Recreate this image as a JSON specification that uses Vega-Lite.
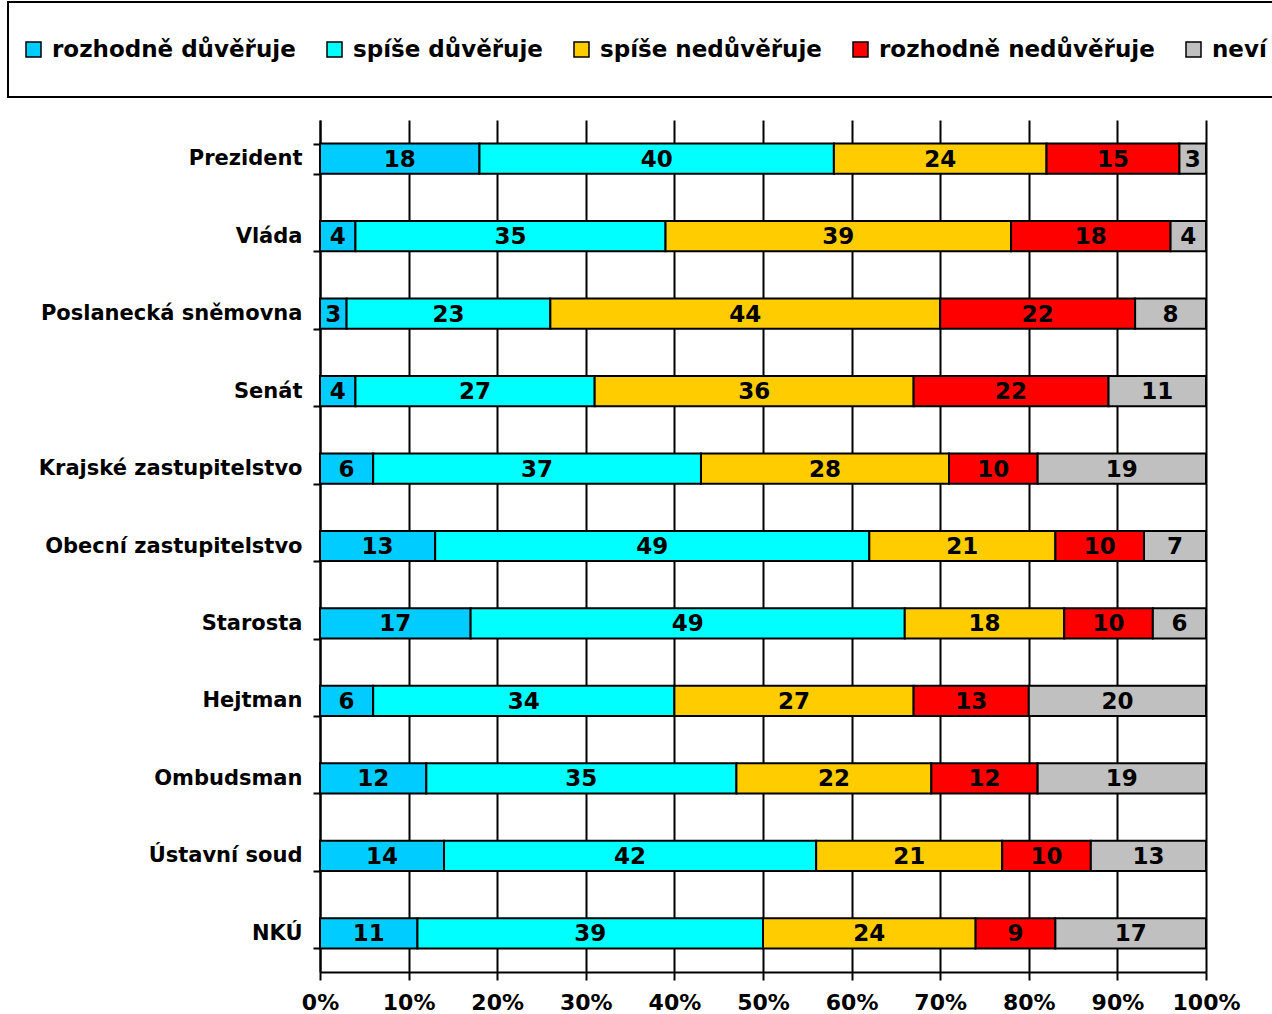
{
  "$schema": "https://vega.github.io/schema/vega-lite/v6.json",
  "autosize": {"type": "none"},
  "width": 886,
  "height": 852,
  "padding": {"left": 320, "top": 120, "right": 66, "bottom": 42},
  "background": "white",
  "config": {
    "font": "DejaVu Sans",
    "view": {"stroke": null}
  },
  "data": {
    "values": [
      {"instituce": "Prezident", "kat": "rozhodně důvěřuje", "o": 1, "v": 18},
      {"instituce": "Prezident", "kat": "spíše důvěřuje", "o": 2, "v": 40},
      {"instituce": "Prezident", "kat": "spíše nedůvěřuje", "o": 3, "v": 24},
      {"instituce": "Prezident", "kat": "rozhodně nedůvěřuje", "o": 4, "v": 15},
      {"instituce": "Prezident", "kat": "neví", "o": 5, "v": 3},
      {"instituce": "Vláda", "kat": "rozhodně důvěřuje", "o": 1, "v": 4},
      {"instituce": "Vláda", "kat": "spíše důvěřuje", "o": 2, "v": 35},
      {"instituce": "Vláda", "kat": "spíše nedůvěřuje", "o": 3, "v": 39},
      {"instituce": "Vláda", "kat": "rozhodně nedůvěřuje", "o": 4, "v": 18},
      {"instituce": "Vláda", "kat": "neví", "o": 5, "v": 4},
      {"instituce": "Poslanecká sněmovna", "kat": "rozhodně důvěřuje", "o": 1, "v": 3},
      {"instituce": "Poslanecká sněmovna", "kat": "spíše důvěřuje", "o": 2, "v": 23},
      {"instituce": "Poslanecká sněmovna", "kat": "spíše nedůvěřuje", "o": 3, "v": 44},
      {"instituce": "Poslanecká sněmovna", "kat": "rozhodně nedůvěřuje", "o": 4, "v": 22},
      {"instituce": "Poslanecká sněmovna", "kat": "neví", "o": 5, "v": 8},
      {"instituce": "Senát", "kat": "rozhodně důvěřuje", "o": 1, "v": 4},
      {"instituce": "Senát", "kat": "spíše důvěřuje", "o": 2, "v": 27},
      {"instituce": "Senát", "kat": "spíše nedůvěřuje", "o": 3, "v": 36},
      {"instituce": "Senát", "kat": "rozhodně nedůvěřuje", "o": 4, "v": 22},
      {"instituce": "Senát", "kat": "neví", "o": 5, "v": 11},
      {"instituce": "Krajské zastupitelstvo", "kat": "rozhodně důvěřuje", "o": 1, "v": 6},
      {"instituce": "Krajské zastupitelstvo", "kat": "spíše důvěřuje", "o": 2, "v": 37},
      {"instituce": "Krajské zastupitelstvo", "kat": "spíše nedůvěřuje", "o": 3, "v": 28},
      {"instituce": "Krajské zastupitelstvo", "kat": "rozhodně nedůvěřuje", "o": 4, "v": 10},
      {"instituce": "Krajské zastupitelstvo", "kat": "neví", "o": 5, "v": 19},
      {"instituce": "Obecní zastupitelstvo", "kat": "rozhodně důvěřuje", "o": 1, "v": 13},
      {"instituce": "Obecní zastupitelstvo", "kat": "spíše důvěřuje", "o": 2, "v": 49},
      {"instituce": "Obecní zastupitelstvo", "kat": "spíše nedůvěřuje", "o": 3, "v": 21},
      {"instituce": "Obecní zastupitelstvo", "kat": "rozhodně nedůvěřuje", "o": 4, "v": 10},
      {"instituce": "Obecní zastupitelstvo", "kat": "neví", "o": 5, "v": 7},
      {"instituce": "Starosta", "kat": "rozhodně důvěřuje", "o": 1, "v": 17},
      {"instituce": "Starosta", "kat": "spíše důvěřuje", "o": 2, "v": 49},
      {"instituce": "Starosta", "kat": "spíše nedůvěřuje", "o": 3, "v": 18},
      {"instituce": "Starosta", "kat": "rozhodně nedůvěřuje", "o": 4, "v": 10},
      {"instituce": "Starosta", "kat": "neví", "o": 5, "v": 6},
      {"instituce": "Hejtman", "kat": "rozhodně důvěřuje", "o": 1, "v": 6},
      {"instituce": "Hejtman", "kat": "spíše důvěřuje", "o": 2, "v": 34},
      {"instituce": "Hejtman", "kat": "spíše nedůvěřuje", "o": 3, "v": 27},
      {"instituce": "Hejtman", "kat": "rozhodně nedůvěřuje", "o": 4, "v": 13},
      {"instituce": "Hejtman", "kat": "neví", "o": 5, "v": 20},
      {"instituce": "Ombudsman", "kat": "rozhodně důvěřuje", "o": 1, "v": 12},
      {"instituce": "Ombudsman", "kat": "spíše důvěřuje", "o": 2, "v": 35},
      {"instituce": "Ombudsman", "kat": "spíše nedůvěřuje", "o": 3, "v": 22},
      {"instituce": "Ombudsman", "kat": "rozhodně nedůvěřuje", "o": 4, "v": 12},
      {"instituce": "Ombudsman", "kat": "neví", "o": 5, "v": 19},
      {"instituce": "Ústavní soud", "kat": "rozhodně důvěřuje", "o": 1, "v": 14},
      {"instituce": "Ústavní soud", "kat": "spíše důvěřuje", "o": 2, "v": 42},
      {"instituce": "Ústavní soud", "kat": "spíše nedůvěřuje", "o": 3, "v": 21},
      {"instituce": "Ústavní soud", "kat": "rozhodně nedůvěřuje", "o": 4, "v": 10},
      {"instituce": "Ústavní soud", "kat": "neví", "o": 5, "v": 13},
      {"instituce": "NKÚ", "kat": "rozhodně důvěřuje", "o": 1, "v": 11},
      {"instituce": "NKÚ", "kat": "spíše důvěřuje", "o": 2, "v": 39},
      {"instituce": "NKÚ", "kat": "spíše nedůvěřuje", "o": 3, "v": 24},
      {"instituce": "NKÚ", "kat": "rozhodně nedůvěřuje", "o": 4, "v": 9},
      {"instituce": "NKÚ", "kat": "neví", "o": 5, "v": 17}
    ]
  },
  "encoding": {
    "y": {
      "field": "instituce",
      "type": "nominal",
      "sort": ["Prezident", "Vláda", "Poslanecká sněmovna", "Senát", "Krajské zastupitelstvo", "Obecní zastupitelstvo", "Starosta", "Hejtman", "Ombudsman", "Ústavní soud", "NKÚ"],
      "scale": {"paddingInner": 0.61, "paddingOuter": 0.305},
      "axis": {
        "title": null,
        "domainColor": "black",
        "domainWidth": 2,
        "tickColor": "black",
        "tickWidth": 2,
        "tickSize": 7,
        "tickBand": "extent",
        "labelFontSize": 21,
        "labelFontWeight": "bold",
        "labelColor": "black",
        "labelPadding": 11,
        "labelLimit": 400
      }
    },
    "x": {
      "field": "v",
      "type": "quantitative",
      "stack": "normalize",
      "scale": {"domain": [0, 1]},
      "axis": {
        "title": null,
        "format": "%",
        "values": [0, 0.1, 0.2, 0.3, 0.4, 0.5, 0.6, 0.7, 0.8, 0.9, 1],
        "domainColor": "black",
        "domainWidth": 2,
        "tickColor": "black",
        "tickWidth": 2,
        "tickSize": 8,
        "grid": true,
        "gridColor": "black",
        "gridWidth": 2,
        "gridOpacity": 1,
        "labelFontSize": 22,
        "labelFontWeight": "bold",
        "labelColor": "black",
        "labelPadding": 12,
        "labelFlush": false
      }
    },
    "order": {"field": "o", "type": "quantitative"}
  },
  "layer": [
    {
      "mark": {"type": "bar", "stroke": "black", "strokeWidth": 2},
      "encoding": {
        "color": {
          "field": "kat",
          "type": "nominal",
          "scale": {
            "domain": ["rozhodně důvěřuje", "spíše důvěřuje", "spíše nedůvěřuje", "rozhodně nedůvěřuje", "neví"],
            "range": ["#00CCFF", "#00FFFF", "#FFCC00", "#FF0000", "#C0C0C0"]
          },
          "legend": {
            "title": null,
            "orient": "none",
            "direction": "horizontal",
            "columns": 5,
            "legendX": -312,
            "legendY": -118,
            "padding": 14,
            "clipHeight": 67,
            "strokeColor": "black",
            "fillColor": "white",
            "symbolType": "square",
            "symbolSize": 225,
            "symbolStrokeColor": "black",
            "symbolStrokeWidth": 1.5,
            "symbolOpacity": 1,
            "labelFontSize": 23,
            "labelFontWeight": "bold",
            "labelColor": "black",
            "labelOffset": 7,
            "labelLimit": 400,
            "columnPadding": 27,
            "encode": {"legend": {"update": {"strokeWidth": {"value": 2}}}}
          }
        }
      }
    },
    {
      "mark": {"type": "text", "fontSize": 23, "fontWeight": "bold", "color": "black", "baseline": "middle", "align": "center", "dy": 1},
      "encoding": {
        "x": {"field": "v", "type": "quantitative", "stack": "normalize", "bandPosition": 0.5},
        "text": {"field": "v", "type": "quantitative"}
      }
    }
  ]
}
